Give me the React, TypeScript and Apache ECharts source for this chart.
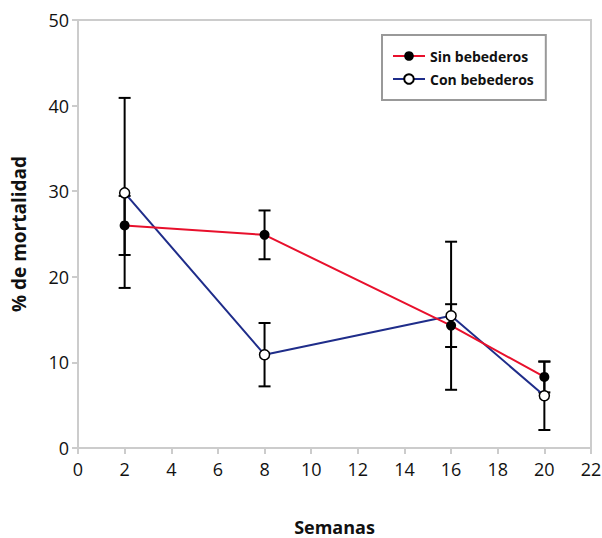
import React, { useEffect, useRef } from "react";
import * as echarts from "echarts";

const weeks = [2, 8, 16, 20];
const sinValues = [26, 24.9, 14.3, 8.3];
const sinErr = [3.45, 2.85, 2.5, 1.8];
const conValues = [29.8, 10.9, 15.45, 6.1];
const conErr = [11.1, 3.7, 8.65, 4.0];

const FONT = "'Open Sans', 'Noto Sans', sans-serif";

export default function App() {
  const ref = useRef<HTMLDivElement>(null);
  useEffect(() => {
    if (!ref.current) return;
    const chart = echarts.init(ref.current, null, { renderer: "svg" });
    const errData: number[][] = [];
    weeks.forEach((w, i) => {
      errData.push([w, sinValues[i] - sinErr[i], sinValues[i] + sinErr[i]]);
      errData.push([w, conValues[i] - conErr[i], conValues[i] + conErr[i]]);
    });
    const renderErr = (params: any, api: any) => {
      const x = api.value(0);
      const lo = api.coord([x, api.value(1)]);
      const hi = api.coord([x, api.value(2)]);
      const hw = 6;
      const style = { stroke: "#000", lineWidth: 2 };
      return {
        type: "group",
        children: [
          { type: "line", shape: { x1: lo[0], y1: lo[1], x2: hi[0], y2: hi[1] }, style },
          { type: "line", shape: { x1: lo[0] - hw, y1: lo[1], x2: lo[0] + hw, y2: lo[1] }, style },
          { type: "line", shape: { x1: hi[0] - hw, y1: hi[1], x2: hi[0] + hw, y2: hi[1] }, style },
        ],
      };
    };
    chart.setOption({
      animation: false,
      textStyle: { fontFamily: FONT },
      grid: {
        left: 78,
        right: 11,
        top: 20,
        bottom: 90,
        show: true,
        borderColor: "#cccccc",
        borderWidth: 2,
        outerBoundsMode: "none",
        containLabel: false,
      },
      legend: {
        left: 382,
        top: 35,
        orient: "vertical",
        data: ["Sin bebederos", "Con bebederos"],
        borderColor: "#999999",
        borderWidth: 2,
        padding: [14, 12, 14, 10],
        itemWidth: 32,
        itemHeight: 12,
        itemGap: 9,
        textStyle: { fontFamily: FONT, fontWeight: "bold", fontSize: 14, color: "#111" },
      },
      xAxis: {
        type: "value",
        min: 0,
        max: 22,
        interval: 2,
        name: "Semanas",
        nameLocation: "middle",
        nameGap: 70,
        nameTextStyle: { fontFamily: FONT, fontWeight: "bold", fontSize: 18, color: "#111" },
        axisLine: { show: true, lineStyle: { color: "#cccccc", width: 2 } },
        axisTick: { show: true, length: 6, lineStyle: { color: "#cccccc", width: 2 } },
        axisLabel: { fontFamily: FONT, fontSize: 18, color: "#111", margin: 12 },
        splitLine: { show: false },
      },
      yAxis: {
        type: "value",
        min: 0,
        max: 50,
        interval: 10,
        name: "% de mortalidad",
        nameLocation: "middle",
        nameGap: 50,
        nameTextStyle: { fontFamily: FONT, fontWeight: "bold", fontSize: 19, color: "#111" },
        axisLine: { show: true, lineStyle: { color: "#cccccc", width: 2 } },
        axisTick: { show: true, length: 6, lineStyle: { color: "#cccccc", width: 2 } },
        axisLabel: { fontFamily: FONT, fontSize: 18, color: "#111", margin: 9 },
        splitLine: { show: false },
      },
      series: [
        {
          type: "custom",
          name: "err",
          renderItem: renderErr,
          data: errData,
          z: 1,
          silent: true,
          encode: { x: 0, y: [1, 2] },
        },
        {
          type: "line",
          name: "Sin bebederos",
          data: weeks.map((w, i) => [w, sinValues[i]]),
          symbol: "circle",
          symbolSize: 10,
          lineStyle: { color: "#e8102c", width: 2 },
          itemStyle: { color: "#000", borderColor: "#000", borderWidth: 0 },
          z: 3,
        },
        {
          type: "line",
          name: "Con bebederos",
          data: weeks.map((w, i) => [w, conValues[i]]),
          symbol: "circle",
          symbolSize: 10,
          lineStyle: { color: "#1f2d8a", width: 2 },
          itemStyle: { color: "#fff", borderColor: "#000", borderWidth: 1.5 },
          z: 2,
        },
      ],
    });
    return () => chart.dispose();
  }, []);
  return (
    <div
      ref={ref}
      style={{ position: "absolute", left: 0, top: 0, width: 602, height: 538 }}
    />
  );
}
